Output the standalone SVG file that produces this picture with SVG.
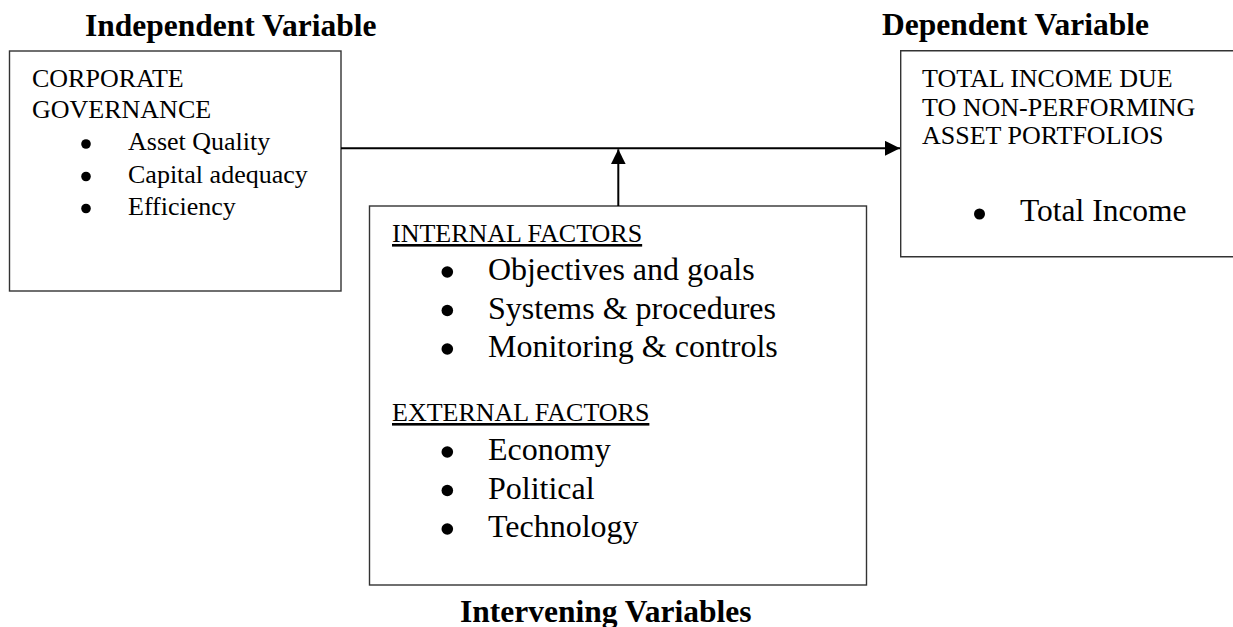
<svg xmlns="http://www.w3.org/2000/svg" width="1233" height="627" viewBox="0 0 1233 627">
<style>
text{font-family:"Liberation Serif","Times New Roman",serif;fill:#000}
.title{font-size:31.5px;font-weight:bold}
.s{font-size:26px}
.m{font-size:32px}
.box{fill:#fff;stroke:#333;stroke-width:1.4}
.conn{stroke:#000;stroke-width:2;fill:none}
.dot{fill:#000}
</style>
<defs>
<marker id="arr" viewBox="0 0 15 15" refX="15" refY="7.5" markerWidth="15" markerHeight="15" markerUnits="userSpaceOnUse" orient="auto">
<path d="M0,0 L15,7.5 L0,15 z" fill="#000"/>
</marker>
</defs>
<rect width="1233" height="627" fill="#fff"/>

<g id="independent">
<text class="title" x="85" y="36">Independent Variable</text>
<rect class="box" x="9.5" y="51" width="331.5" height="240"/>
<text class="s" x="32" y="87">CORPORATE</text>
<text class="s" x="32" y="118">GOVERNANCE</text>
<circle class="dot" cx="86" cy="144" r="4.8"/>
<text class="s" x="128" y="150">Asset Quality</text>
<circle class="dot" cx="86" cy="176.5" r="4.8"/>
<text class="s" x="128" y="183">Capital adequacy</text>
<circle class="dot" cx="86" cy="208.5" r="4.8"/>
<text class="s" x="128" y="215">Efficiency</text>
</g>

<g id="dependent">
<text class="title" x="882" y="35">Dependent Variable</text>
<path class="box" d="M1240,50.7 H900.7 V256.7 H1240" fill="#fff"/>
<text class="s" x="922" y="87">TOTAL INCOME DUE</text>
<text class="s" x="922" y="115.5">TO NON-PERFORMING</text>
<text class="s" x="922" y="144">ASSET PORTFOLIOS</text>
<circle class="dot" cx="979.5" cy="214" r="5.5"/>
<text class="m" x="1020" y="221" style="font-size:31.5px">Total Income</text>
</g>

<g id="intervening">
<rect class="box" x="369.5" y="206" width="497" height="379"/>
<text class="s" x="392" y="242" text-decoration="underline">INTERNAL FACTORS</text>
<circle class="dot" cx="447.3" cy="272" r="5.8"/>
<text class="m" x="488" y="280">Objectives and goals</text>
<circle class="dot" cx="447.3" cy="310.5" r="5.8"/>
<text class="m" x="488" y="318.5">Systems &amp; procedures</text>
<circle class="dot" cx="447.3" cy="349" r="5.8"/>
<text class="m" x="488" y="357">Monitoring &amp; controls</text>
<text class="s" x="392" y="421" text-decoration="underline">EXTERNAL FACTORS</text>
<circle class="dot" cx="447.3" cy="452" r="5.8"/>
<text class="m" x="488" y="460">Economy</text>
<circle class="dot" cx="447.3" cy="490.5" r="5.8"/>
<text class="m" x="488" y="498.5">Political</text>
<circle class="dot" cx="447.3" cy="529" r="5.8"/>
<text class="m" x="488" y="537">Technology</text>
<text class="title" x="460" y="622">Intervening Variables</text>
</g>

<g id="connectors">
<line class="conn" x1="341" y1="148.3" x2="900" y2="148.3" marker-end="url(#arr)"/>
<line class="conn" x1="618.3" y1="206" x2="618.3" y2="149.3" marker-end="url(#arr)"/>
</g>
</svg>
